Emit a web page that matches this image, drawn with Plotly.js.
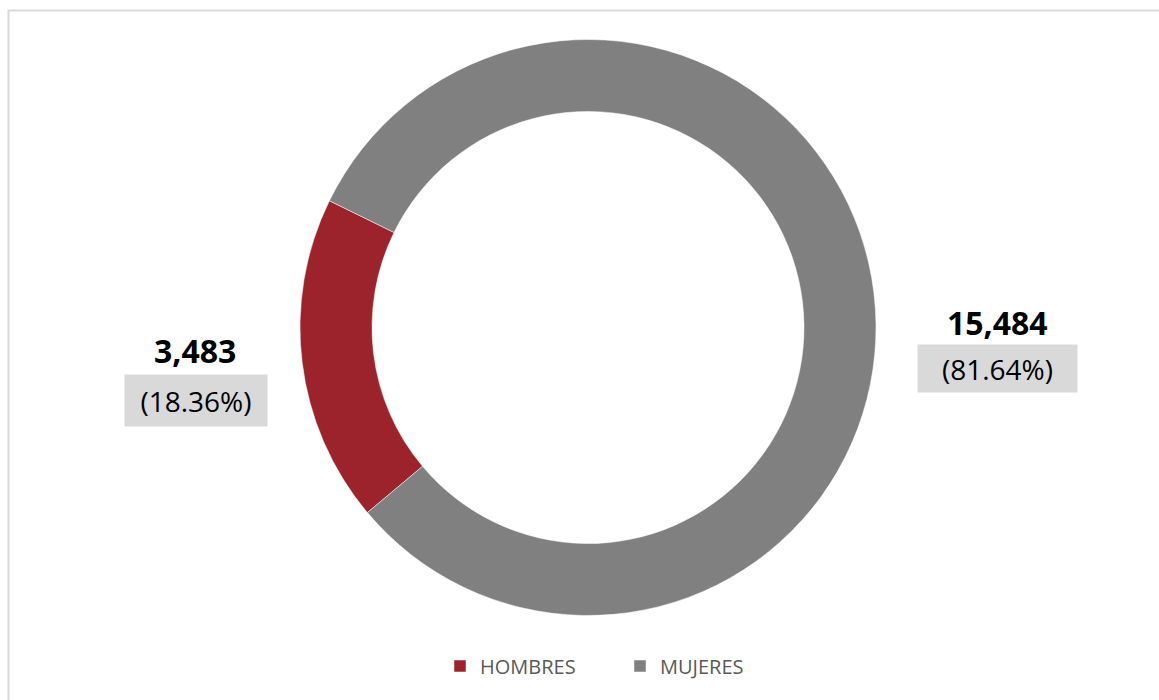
<!DOCTYPE html>
<html>
<head>
<meta charset="utf-8">
<script src="https://cdn.plot.ly/plotly-3.0.1.min.js"></script>
<style>
  html, body { margin: 0; padding: 0; background: #ffffff; }
  #chart { width: 1159px; height: 700px; }
</style>
</head>
<body>
<div id="chart"></div>
<script>
// Data
const categories = ["HOMBRES", "MUJERES"];
const values = [3483, 15484];
const colors = ["#9C232B", "#808080"];

const W = 1159, H = 700;
const total = values.reduce((a, b) => a + b, 0);
const fmtNum = v => v.toLocaleString("en-US");
const fmtPct = v => "(" + (v / total * 100).toFixed(2) + "%)";

// Label layout (pixels) for each category
const labelPos = [
  { numX: 195, numY: 350, boxX: 196, boxY: 400, boxW: 142, boxH: 51 },
  { numX: 997, numY: 322, boxX: 997.5, boxY: 368.5, boxW: 159, boxH: 47 }
];

const px = x => x / W;
const py = y => 1 - y / H;

const annotations = [];
categories.forEach((c, i) => {
  const p = labelPos[i];
  annotations.push({
    xref: "paper", yref: "paper",
    x: px(p.numX), y: py(p.numY),
    xanchor: "center", yanchor: "middle",
    text: "<b>" + fmtNum(values[i]) + "</b>",
    showarrow: false,
    font: { family: "Open Sans", size: 32, color: "#000000" }
  });
  annotations.push({
    xref: "paper", yref: "paper",
    x: px(p.boxX), y: py(p.boxY),
    xanchor: "center", yanchor: "middle",
    width: p.boxW, height: p.boxH,
    bgcolor: "#D9D9D9",
    borderpad: 0,
    text: fmtPct(values[i]),
    showarrow: false,
    font: { family: "Open Sans", size: 28, color: "#000000" }
  });
});

const cx = 588, cy = 327.5, R = 288;

const trace = {
  type: "pie",
  labels: categories,
  values: values,
  hole: 0.75,
  sort: false,
  direction: "clockwise",
  rotation: 230,
  textinfo: "none",
  hoverinfo: "label+value+percent",
  marker: { colors: colors, line: { color: "#ffffff", width: 0.5 } },
  domain: { x: [px(cx - R), px(cx + R)], y: [py(cy + R), py(cy - R)] }
};

const layout = {
  width: W, height: H,
  margin: { l: 0, r: 0, t: 0, b: 0 },
  paper_bgcolor: "#ffffff",
  showlegend: true,
  legend: {
    orientation: "h",
    x: px(620), xanchor: "center",
    y: py(666), yanchor: "middle",
    font: { family: "Open Sans", size: 20, color: "#595959" },
    itemwidth: 30,
    entrywidth: 135,
    traceorder: "normal"
  },
  annotations: annotations,
  shapes: [{
    type: "rect", xref: "paper", yref: "paper",
    x0: px(8.5), x1: px(1170), y0: py(715), y1: py(10.5),
    line: { color: "#D9D9D9", width: 2 },
    fillcolor: "rgba(0,0,0,0)"
  }]
};

Plotly.newPlot("chart", [trace], layout, { displayModeBar: false, staticPlot: true });
</script>
</body>
</html>
